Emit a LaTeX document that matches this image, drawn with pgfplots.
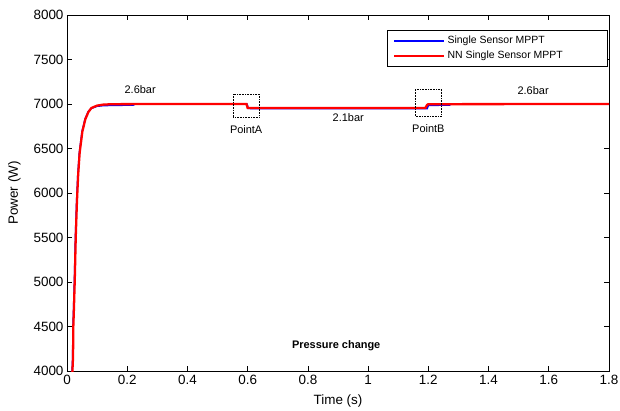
\documentclass[border=0pt]{standalone}
\usepackage{fontspec}
\setmainfont{Liberation Sans}
\usepackage{pgfplots}
\pgfplotsset{compat=1.18}

\begin{document}
\begin{tikzpicture}
\begin{axis}[
  scale only axis,
  width=542bp, height=356bp,
  xmin=0, xmax=1.8,
  ymin=4000, ymax=8000,
  xtick={0,0.2,...,1.8},
  ytick={4000,4500,...,8000},
  xticklabels={0,0.2,0.4,0.6,0.8,1,1.2,1.4,1.6,1.8},
  scaled ticks=false,
  /pgf/number format/1000 sep={},
  /pgf/number format/assume math mode=true,
  tick align=inside,
  major tick length=5bp,
  tick style={black, line width=0.6pt},
  axis line style={line width=0.8pt},
  ticklabel style={font=\fontsize{13.5}{15}\selectfont},
  xticklabel style={yshift=-1bp},
  xlabel={Time (s)},
  ylabel={Power (W)},
  label style={font=\fontsize{13.5}{15}\selectfont},
  xlabel style={yshift=-3bp},
  ylabel style={yshift=6bp},
  legend style={at={(0.998,0.958)}, anchor=north east, font=\fontsize{10.5}{12}\selectfont,
    draw=black, line width=0.6pt, row sep=2bp, inner xsep=6bp, inner ysep=4bp},
  legend cell align=left,
  legend image code/.code={\draw[#1] (0bp,0bp) -- (50bp,0bp);},
  clip=true,
]
\addplot[blue, line width=1.6pt] coordinates {
  (0.015,3900) (0.017,4000) (0.019,4150) (0.020,4500) (0.022,4700) (0.025,5050)
  (0.028,5500) (0.032,5900) (0.036,6200) (0.041,6450) (0.050,6690) (0.060,6830)
  (0.070,6910) (0.080,6950) (0.100,6975) (0.120,6982) (0.150,6985) (0.220,6988)
  (0.225,6998) (0.598,6998) (0.602,6950) (1.196,6948) (1.200,6985) (1.270,6988)
  (1.275,6998) (1.800,6998)
};
\addlegendentry{\makebox[152bp][l]{Single Sensor MPPT}}
\addplot[red, line width=2.3pt] coordinates {
  (0.016,3900) (0.018,4000) (0.020,4150) (0.021,4500) (0.023,4700) (0.026,5050)
  (0.029,5500) (0.033,5900) (0.037,6200) (0.042,6450) (0.051,6690) (0.061,6830)
  (0.071,6910) (0.081,6955) (0.100,6982) (0.120,6993) (0.150,6998) (0.300,7000)
  (0.596,7000) (0.600,6955) (1.190,6955) (1.196,6990) (1.200,6998) (1.800,7000)
};
\addlegendentry{\makebox[152bp][l]{NN Single Sensor MPPT}}
\draw[densely dotted, line width=0.6pt] (axis cs:0.551,6854) rectangle (axis cs:0.638,7112);
\draw[densely dotted, line width=0.6pt] (axis cs:1.156,6865) rectangle (axis cs:1.243,7168);
\node[font=\fontsize{11}{13}\selectfont] at (axis cs:0.243,7160) {2.6bar};
\node[font=\fontsize{11}{13}\selectfont] at (axis cs:0.595,6710) {PointA};
\node[font=\fontsize{11}{13}\selectfont] at (axis cs:0.934,6845) {2.1bar};
\node[font=\fontsize{11}{13}\selectfont] at (axis cs:1.200,6720) {PointB};
\node[font=\fontsize{11}{13}\selectfont] at (axis cs:1.548,7150) {2.6bar};
\node[font=\bfseries\fontsize{11}{13}\selectfont] at (axis cs:0.894,4290) {Pressure change};
\end{axis}
\pgfresetboundingbox
\path[use as bounding box] (-67bp,-40bp) rectangle (553bp,371bp);
\end{tikzpicture}
\end{document}
